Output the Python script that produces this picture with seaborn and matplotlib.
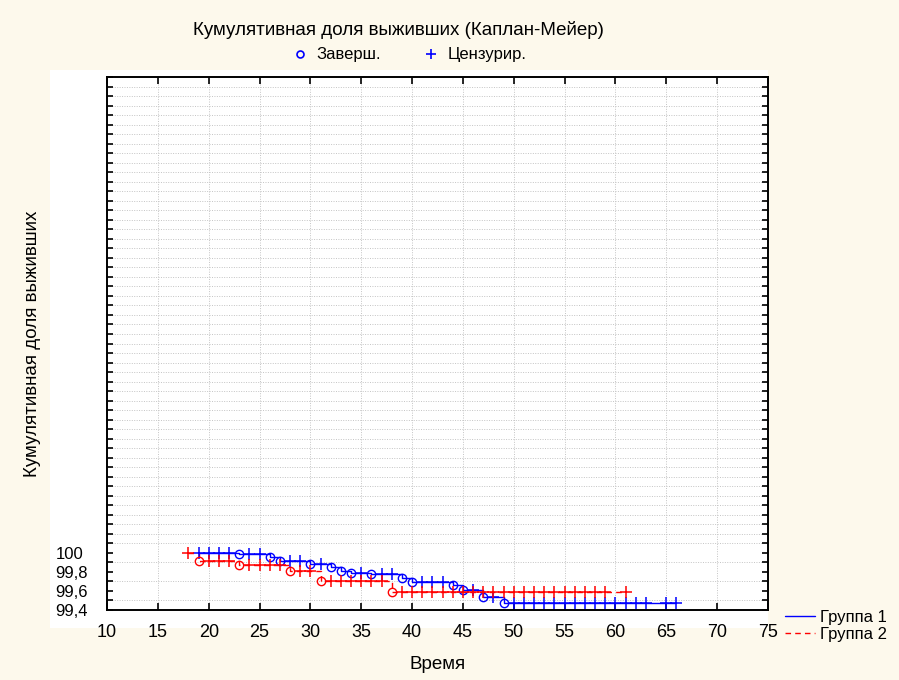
import numpy as np
import pandas as pd
import matplotlib
matplotlib.use("Agg")
import matplotlib.pyplot as plt
import seaborn as sns
from matplotlib.lines import Line2D
from matplotlib.patches import Rectangle

# group 1 (blue): event times (circles) and survival level after each event
g1_event_t = [23, 26, 27, 30, 32, 33, 34, 36, 39, 40, 44, 45, 47, 49]
g1_event_v = [99.985, 99.96, 99.91, 99.88, 99.85, 99.81, 99.79, 99.775,
              99.735, 99.69, 99.665, 99.605, 99.535, 99.47]
g1_cens_t = [19, 20, 21, 22, 24, 25, 28, 29, 31, 35, 37, 38, 41, 42, 43, 46, 48,
             50, 51, 52, 53, 54, 55, 56, 57, 58, 59, 60, 61, 62, 63, 65, 66]

# group 2 (red)
g2_event_t = [19, 23, 28, 31, 38]
g2_event_v = [99.92, 99.87, 99.805, 99.705, 99.59]
g2_cens_t = [18, 20, 21, 22, 24, 25, 26, 27, 29, 30, 32, 33, 34, 35, 36, 37,
             39, 40, 41, 42, 43, 44, 45, 46, 47, 48, 49, 50, 51, 52, 53, 54,
             55, 56, 57, 58, 59, 61]

start_level = 100.0
x_ticks = [10, 15, 20, 25, 30, 35, 40, 45, 50, 55, 60, 65, 70, 75]
y_ticks = [99.4, 99.6, 99.8, 100.0]
y_labels = ["99,4", "99,6", "99,8", "100"]


def km_frames(ev_t, ev_v, cens_t, name):
    pts = [(t, "e", v) for t, v in zip(ev_t, ev_v)] + [(t, "c", None) for t in cens_t]
    pts.sort(key=lambda p: (p[0], p[1] == "c"))
    level = start_level
    line, ev, ce = [], [], []
    line.append((pts[0][0], level))
    for t, kind, v in pts:
        if kind == "e":
            level = v
            ev.append((t, level))
        else:
            ce.append((t, level))
        line.append((t, level))
    mk = lambda rows: pd.DataFrame(rows, columns=["t", "s"]).assign(grp=name)
    return mk(line), mk(ev), mk(ce)


l1, e1, c1 = km_frames(g1_event_t, g1_event_v, g1_cens_t, "Группа 1")
l2, e2, c2 = km_frames(g2_event_t, g2_event_v, g2_cens_t, "Группа 2")

sns.set_theme(style="white")
plt.rcParams["font.family"] = ["Liberation Sans", "DejaVu Sans"]
plt.rcParams["text.color"] = "black"
plt.rcParams["axes.labelcolor"] = "black"
plt.rcParams["xtick.color"] = "black"
plt.rcParams["ytick.color"] = "black"

bg = "#FDF9EC"
fig = plt.figure(figsize=(8.99, 6.8), dpi=100, facecolor=bg)
fig.patches.append(Rectangle((50 / 899, 1 - 628 / 680), (768 - 50) / 899, (628 - 70) / 680,
                             transform=fig.transFigure, facecolor="white",
                             edgecolor="none", zorder=-5))
ax = fig.add_axes([107 / 899, 1 - 610 / 680, (768 - 107) / 899, (610 - 77) / 680])
ax.set_facecolor("white")

blue, red = "#0000FF", "#FF0000"
sns.lineplot(data=l1, x="t", y="s", ax=ax, color=blue, lw=1, estimator=None,
             sort=False, drawstyle="steps-post")
sns.lineplot(data=l2, x="t", y="s", ax=ax, color=red, lw=1, estimator=None,
             sort=False, drawstyle="steps-post", linestyle=(0, (4, 3)))
for ev, ce, col in [(e1, c1, blue), (e2, c2, red)]:
    ax.plot(ev["t"], ev["s"], "o", ms=6, mfc="none", mec=col, mew=1, zorder=4)
    ax.plot(ce["t"], ce["s"], "+", ms=8.5, mec=col, mew=1.1, zorder=4)

ax.set_xlim(10, 75)
ax.set_ylim(99.4, 105.0)
ax.set_xticks(x_ticks)
ax.set_xticklabels([str(v) for v in x_ticks], fontsize=13)
ax.set_yticks(y_ticks)
ax.set_yticklabels(y_labels, fontsize=12, ha="left")
ax.set_yticks(np.arange(99.4, 105.001, 0.1), minor=True)
ax.tick_params(axis="both", which="both", direction="in", top=True, right=True,
               bottom=True, left=True, color="black")
ax.tick_params(axis="x", which="major", length=5, width=1.2, pad=10)
ax.tick_params(axis="y", which="major", length=4, width=1.2, pad=37)
ax.tick_params(axis="y", which="minor", length=4, width=1.2)
ax.grid(True, which="major", axis="x", color="#c4c4c4", linestyle=(0, (1, 1.5)), lw=0.7)
ax.grid(True, which="minor", axis="y", color="#c4c4c4", linestyle=(0, (1, 1.5)), lw=0.7)
for sp in ax.spines.values():
    sp.set_color("black")
    sp.set_linewidth(1.4)

ax.set_xlabel("Время", fontsize=13.5, labelpad=11)
ax.set_ylabel("Кумулятивная доля выживших", fontsize=13.5)
ax.yaxis.set_label_coords(-0.100, 0.5)

fig.text(398 / 899, 1 - 30 / 680, "Кумулятивная доля выживших (Каплан-Мейер)",
         ha="center", va="center", fontsize=13.5)
top_handles = [Line2D([], [], ls="none", marker="o", ms=5, mfc="none", mec=blue, mew=1.2),
               Line2D([], [], ls="none", marker="+", ms=7, mec=blue, mew=1.2)]
fig.legend(top_handles, ["Заверш.", "Цензурир."], loc="center",
           bbox_to_anchor=(408 / 899, 1 - 55 / 680), ncol=2, frameon=False,
           fontsize=12, handletextpad=0.4, columnspacing=2.4, handlelength=1.2)
grp_handles = [Line2D([], [], color=blue, lw=1),
               Line2D([], [], color=red, lw=1, ls=(0, (4, 3)))]
fig.legend(grp_handles, ["Группа 1", "Группа 2"], loc="center left",
           bbox_to_anchor=(785 / 899, 1 - 626 / 680), frameon=False,
           fontsize=12, handlelength=1.8, handletextpad=0.3, labelspacing=0.1,
           borderaxespad=0, borderpad=0)

fig.savefig("out.png", dpi=100, facecolor=bg)
